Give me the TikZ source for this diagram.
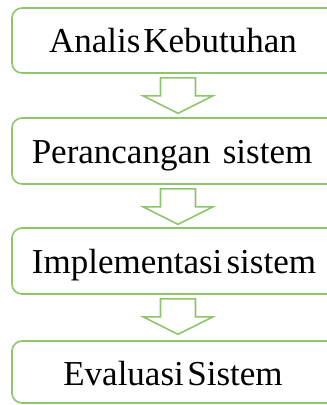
\documentclass[tikz,border=0pt]{standalone}
\usepackage{fontspec}
\setmainfont{Liberation Serif}
\usetikzlibrary{calc}
\definecolor{leaf}{RGB}{140,198,105}
\begin{document}
\begin{tikzpicture}[x=1pt,y=-1pt,
  stepbox/.style={draw=leaf,line width=1.6pt,rounded corners=10pt,minimum width=332pt,inner sep=0pt},
  steplabel/.style={font=\fontsize{35}{35}\selectfont,text=black,inner sep=0pt,anchor=base},
  blockarrow/.style={draw=leaf,line width=1.6pt,line join=miter,fill=white}]
\useasboundingbox (0,0) rectangle (327,405);
\clip (0,0) rectangle (327,405);

% process steps
\node[stepbox,minimum height=65pt] (b1) at (178,40.5) {};
\node[stepbox,minimum height=66pt] (b2) at (178,151) {};
\node[stepbox,minimum height=66pt] (b3) at (178,261) {};
\node[stepbox,minimum height=62pt] (b4) at (178,372) {};

\node[steplabel] (t1) at (173,52) {Analis\hspace{0.08em}Kebutuhan};
\node[steplabel] (t2) at (172,163) {Perancangan\hspace{0.35em}sistem};
\node[steplabel] (t3) at (174,273) {Implementasi\hspace{0.12em}sistem};
\node[steplabel] (t4) at (173,385) {Evaluasi\hspace{0.1em}Sistem};

% hollow block arrows between steps
\foreach \a/\b in {b1/b2,b2/b3,b3/b4}{
  \draw[blockarrow] ($(\a.south)+(-17.5,4)$) -- ++(35,0) -- ++(0,18) -- ++(17.5,0)
    -- ($(\a.south)+(0,39.5)$) -- ++(-35,-17.5) -- ++(17.5,0) -- cycle;
}
\end{tikzpicture}
\end{document}
